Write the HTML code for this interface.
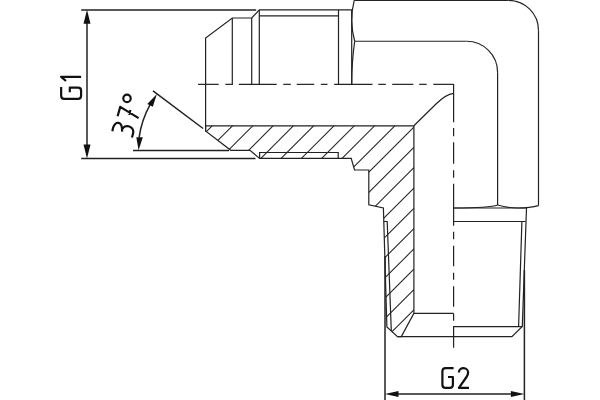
<!DOCTYPE html>
<html><head><meta charset="utf-8"><style>html,body{margin:0;padding:0;background:#fff;overflow:hidden}svg{display:block}</style></head>
<body><svg width="600" height="400" viewBox="0 0 600 400">
<defs><clipPath id="sc"><path d="M205.6 125.8 L413.9 125.8 L413.9 313.3 L401.3 336.6 L397.5 336.6 L386.9 327.0 L383.4 208.0 L368.8 204.8 L368.8 170.0 L354.5 170.0 L351.2 158.4 L259.6 158.4 L250.0 150.3 L230.8 150.3 L206.0 131.25 L205.6 131.25Z"/></clipPath></defs>
<rect width="600" height="400" fill="#fff"/>
<g stroke="#222" stroke-width="1.05" fill="none" clip-path="url(#sc)"><path d="M248.00 90 L-7.00 345"/><path d="M268.30 90 L13.30 345"/><path d="M288.60 90 L33.60 345"/><path d="M308.90 90 L53.90 345"/><path d="M329.20 90 L74.20 345"/><path d="M349.50 90 L94.50 345"/><path d="M369.80 90 L114.80 345"/><path d="M390.10 90 L135.10 345"/><path d="M410.40 90 L155.40 345"/><path d="M430.70 90 L175.70 345"/><path d="M451.00 90 L196.00 345"/><path d="M471.30 90 L216.30 345"/><path d="M491.60 90 L236.60 345"/><path d="M511.90 90 L256.90 345"/><path d="M532.20 90 L277.20 345"/><path d="M552.50 90 L297.50 345"/><path d="M572.80 90 L317.80 345"/><path d="M593.10 90 L338.10 345"/><path d="M613.40 90 L358.40 345"/><path d="M633.70 90 L378.70 345"/><path d="M654.00 90 L399.00 345"/></g>
<g stroke="#222" stroke-width="1.2" fill="none" stroke-linecap="butt" stroke-linejoin="miter"><path d="M205.60 131.25 L205.60 38.00 L232.30 18.00 L251.70 18.00 L259.30 9.90 L352.00 9.90"/><path d="M232.30 18.00 L232.30 84.30"/><path d="M251.70 18.00 L251.70 84.30"/><path d="M259.30 9.90 L259.30 84.30"/><path d="M259.30 15.80 L338.30 15.80"/><path d="M338.50 9.90 L338.50 84.30"/><path d="M351.70 9.90 L351.70 84.30"/><path d="M354.2 0.4 Q349.0 20.8 354.7 41.25"/><path d="M354.7 41.25 Q351.7 62 351.7 84.3"/><path d="M354.70 41.25 L466.60 41.25"/><path d="M354.20 0.40 L508.50 0.40"/><path d="M508.5 0.4 A30 30 0 0 1 538.5 30.4"/><path d="M538.50 30.40 L538.50 205.60"/><path d="M466.6 41.25 A31 31 0 0 1 497.6 72.25"/><path d="M497.60 72.25 L497.60 205.00"/><path d="M453.6 208 Q490 208 497.6 205"/><path d="M497.6 205 Q508 208 518 208 Q530 208 538.5 205.6"/><path d="M453.60 208.00 L526.50 208.00"/><path d="M453.60 221.50 L525.60 221.50"/><path d="M526.50 208.00 L522.30 326.40 L511.90 336.60 L397.50 336.60"/><path d="M521.90 221.50 L518.60 326.60"/><path d="M453.60 326.60 L522.30 326.60"/><path d="M205.60 125.80 L413.90 125.80 L413.90 313.30 L401.30 336.60 L397.50 336.60 L386.90 327.00 L383.40 208.00 L368.80 204.80 L368.80 170.00 L354.50 170.00 L351.20 158.40 L259.60 158.40 L250.00 150.30 L230.80 150.30 L206.00 131.25 L205.60 131.25Z"/><path d="M259.60 158.40 L259.60 152.50 L338.20 152.50 L338.20 158.40"/><path d="M383.60 221.50 L387.20 221.50 L391.30 330.80"/><path d="M413.90 313.30 L453.60 313.30"/><path d="M413.9 125.8 L436 104 C442 98 449 93.8 453.6 93.3"/></g>
<g stroke="#222" stroke-width="1.5" fill="none"><path d="M81.2 9.9 L256.2 9.9"/><path d="M81.2 158.5 L255.5 158.5"/><path d="M87.0 23 L87.0 145"/><path d="M153 90.8 L203.1 128.5"/><path d="M133 150.4 L229 150.4"/><path d="M139.11 137.32 A94.0 94.0 0 0 1 149.99 104.83"/><path d="M385.0 256 L385.0 400"/><path d="M524.4 270 L524.4 400"/><path d="M398 394 L511 394"/></g>
<g stroke="#222" stroke-width="1.2" fill="none"><path d="M198 84.35 L218.7 84.35"/><path d="M225.3 84.35 L233 84.35"/><path d="M238.8 84.35 L276.7 84.35"/><path d="M283.3 84.35 L290.8 84.35"/><path d="M296.7 84.35 L314.2 84.35"/><path d="M320.8 84.35 L327.5 84.35"/><path d="M334.2 84.35 L372.5 84.35"/><path d="M378.3 84.35 L385.8 84.35"/><path d="M392.2 84.35 L413.3 84.35"/><path d="M419.2 84.35 L426.7 84.35"/><path d="M433.3 84.35 L453.5 84.35"/><path d="M453.6 84.0 L453.6 122.3"/><path d="M453.6 128 L453.6 136.2"/><path d="M453.6 142.3 L453.6 163.7"/><path d="M453.6 170.2 L453.6 177.7"/><path d="M453.6 183.7 L453.6 225.7"/><path d="M453.6 231.8 L453.6 239.3"/><path d="M453.6 245.7 L453.6 266.3"/><path d="M453.6 272.7 L453.6 279.8"/><path d="M453.6 286.2 L453.6 306.8"/><path d="M453.6 313.5 L453.6 320.7"/><path d="M453.6 326 L453.6 347.7"/></g>
<g fill="#111" stroke="none"><path d="M87.00 9.80 L90.50 23.80 L83.50 23.80Z"/><path d="M87.00 158.60 L83.50 144.60 L90.50 144.60Z"/><path d="M385.00 394.00 L398.50 390.90 L398.50 397.10Z"/><path d="M524.40 394.00 L510.90 397.10 L510.90 390.90Z"/><path d="M138.6 150.3 L136.3 137.2 L142.8 137.2Z"/><path d="M156.9 94.1 L147.3 104.0 L152.8 106.7Z"/></g>
<g stroke="#111" stroke-width="2.2" fill="none" stroke-linecap="butt" stroke-linejoin="round"><g transform="matrix(0,-1,1,0,60.2,100.2)"><path d="M13.2 0.95 L4.4 0.95 Q1.3 0.95 1.3 4.05 L1.3 17.8 Q1.3 20.9 4.4 20.9 L9.5 20.9 Q12.6 20.9 12.6 17.8 L12.6 9.6 L7.9 9.6 M19.2 5.8 L23.4 0.95 L23.4 20.9"/></g>
<g transform="translate(441.25,367.1)"><path d="M12.35 1.1 L4.4 1.1 Q1.15 1.1 1.15 4.35 L1.15 17.55 Q1.15 20.8 4.4 20.8 L8.6 20.8 Q11.65 20.8 11.65 17.75 L11.65 9.9 L6.75 9.9 M17.65 5.5 C17.65 2.7 19.75 1.1 22.25 1.1 C24.95 1.1 26.85 2.9 26.85 5.5 C26.85 7.2 26.35 8.4 25.25 9.9 L17.65 20.8 L27.75 20.8"/></g>
<path d="M112.38 131.25 C112.53 130.57 112.78 128.45 113.30 127.20 C113.82 125.95 114.67 124.48 115.50 123.75 C116.33 123.02 117.42 122.69 118.30 122.80 C119.18 122.91 120.20 123.62 120.80 124.40 C121.40 125.18 121.68 126.30 121.90 127.50 C122.12 128.70 122.07 130.92 122.10 131.60 M122.10 129.00 C122.57 128.60 123.82 127.06 124.90 126.60 C125.98 126.14 127.40 125.95 128.60 126.25 C129.80 126.55 131.32 127.44 132.10 128.40 C132.88 129.36 133.33 130.47 133.30 132.00 C133.27 133.53 132.13 136.67 131.90 137.60 M117.6 116.2 L120.25 106.85 L138.6 118.1 M130.4 110 L129.1 114.9"/><circle cx="127" cy="98.4" r="3.7"/></g>
</svg></body></html>
